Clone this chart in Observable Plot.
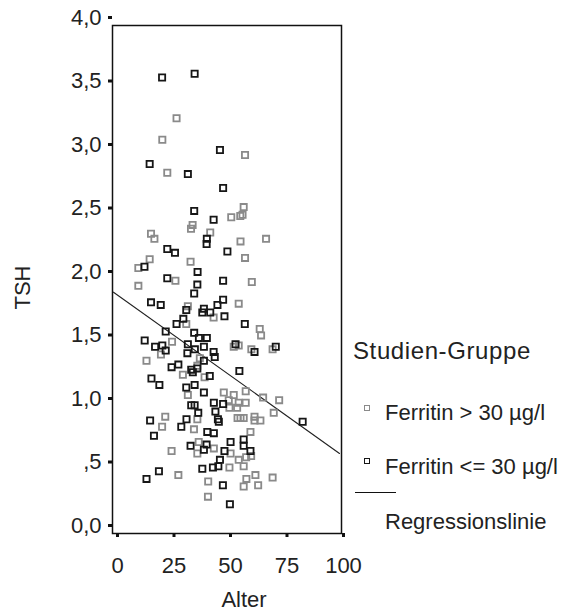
<!DOCTYPE html>
<html>
<head>
<meta charset="utf-8">
<script src="https://cdn.jsdelivr.net/npm/d3@7"></script>
<script src="https://cdn.jsdelivr.net/npm/@observablehq/plot@0.6"></script>
<style>
  body { margin: 0; background: #fff; }
  #wrap { position: relative; width: 565px; height: 614px; font-family: "Liberation Sans", Arial, sans-serif; color: #222; }
  #wrap svg { display: block; }
  .lg { position: absolute; font-size: 22px; line-height: 26px; white-space: nowrap; color: #222; }
  .sw { position: absolute; width: 4px; height: 4px; border: 1.5px solid; }
  .ln { position: absolute; height: 0; border-top: 1.5px solid #111; }
</style>
</head>
<body>
<div id="wrap"></div>
<script>
// Study groups
const groups = ["Ferritin > 30 µg/l", "Ferritin <= 30 µg/l"];

// Ferritin > 30 µg/l: age (years) and TSH
const ageHigh = [27.9,21.6,58.2,23.8,57.6,52.1,57.1,56.1,35.0,34.3,42.8,16.6,18.1,56.2,67.5,58.2,16.0,11.0,34.1,27.4,
  61.2,11.0,55.4,32.9,44.3,32.2,64.7,65.3,25.9,53.2,55.4,70.4,21.0,61.0,38.2,14.6,30.7,40.3,37.1,32.9,
  48.8,53.2,58.5,66.2,73.3,51.0,55.4,58.5,51.3,54.7,70.9,22.9,37.1,56.2,57.6,54.9,62.4,62.4,65.0,21.5,
  35.6,60.6,37.7,25.7,37.1,44.4,51.8,55.4,58.7,60.9,51.3,57.6,28.7,41.9,58.8,62.8,70.4,57.6,64.0,41.8];
const tshHigh = [3.27,3.10,2.98,2.84,2.57,2.49,2.51,2.50,2.43,2.40,2.37,2.36,2.32,2.30,2.32,2.17,2.16,2.09,2.14,1.99,
  1.98,1.95,1.81,1.79,1.70,1.65,1.61,1.56,1.51,1.47,1.48,1.45,1.41,1.45,1.38,1.36,1.25,1.23,1.32,1.09,
  1.11,1.09,1.12,1.07,1.05,1.05,1.03,1.03,0.99,0.99,0.95,0.92,0.90,0.91,0.91,0.91,0.92,0.89,0.89,0.84,
  0.82,0.80,0.72,0.65,0.63,0.67,0.63,0.58,0.60,0.61,0.52,0.53,0.46,0.41,0.43,0.46,0.44,0.37,0.38,0.29];

// Ferritin <= 30 µg/l: age (years) and TSH
const ageLow = [21.5,35.9,47.1,16.0,32.9,48.5,35.7,44.3,41.3,41.2,23.8,27.2,50.4,13.7,37.2,23.8,48.5,37.1,35.7,16.6,
  20.9,48.5,46.0,32.2,40.0,39.3,42.8,49.1,30.9,27.9,58.1,23.1,35.7,37.8,41.3,13.8,32.9,54.0,71.8,18.4,
  21.6,23.1,32.7,36.0,40.0,62.4,44.3,44.8,40.0,25.7,28.7,34.4,37.1,55.7,35.1,42.6,16.8,20.3,32.2,35.9,
  40.0,44.4,48.5,34.4,35.9,45.1,37.5,16.2,32.3,46.2,46.6,83.7,30.0,41.5,44.4,17.9,34.1,41.2,51.8,57.6,
  57.6,40.0,49.1,60.6,47.1,46.4,44.0,39.3,20.1,14.6,48.4,51.5];
const tshLow = [3.59,3.62,3.02,2.91,2.83,2.72,2.54,2.47,2.32,2.28,2.24,2.21,2.22,2.10,2.06,2.01,1.99,1.96,1.89,1.82,
  1.80,1.84,1.80,1.76,1.77,1.74,1.74,1.71,1.69,1.65,1.65,1.59,1.58,1.54,1.54,1.52,1.49,1.49,1.47,1.47,
  1.48,1.44,1.42,1.45,1.47,1.43,1.43,1.39,1.36,1.31,1.33,1.29,1.30,1.28,1.27,1.24,1.22,1.17,1.15,1.17,
  1.11,1.03,1.02,1.01,1.01,0.96,0.95,0.89,0.90,0.90,0.88,0.88,0.84,0.80,0.79,0.77,0.69,0.70,0.72,0.74,
  0.69,0.66,0.65,0.65,0.58,0.53,0.52,0.51,0.49,0.43,0.38,0.23];

// Regression line end points (age, TSH)
const regAge = [0, 100];
const regTsh = [1.90, 0.63];

// Axis ticks
const xTicks = [0, 25, 50, 75, 100];
const yTicks = [0, 0.5, 1, 1.5, 2, 2.5, 3, 3.5, 4];

const high = ageHigh.map((a, i) => ({age: a, tsh: tshHigh[i], group: groups[0]}));
const low = ageLow.map((a, i) => ({age: a, tsh: tshLow[i], group: groups[1]}));
const reg = regAge.map((a, i) => ({age: a, tsh: regTsh[i]}));

// German decimal comma; the leading zero is dropped for ,5
const fmtY = d => d === 0.5 ? ",5" : d.toFixed(1).replace(".", ",");

const chart = Plot.plot({
  width: 565,
  height: 614,
  marginLeft: 112,
  marginRight: 224,
  marginTop: 25,
  marginBottom: 81,
  insetLeft: 1,
  insetRight: 2,
  x: {domain: [0, 100]},
  y: {domain: [0, 4]},
  style: {fontFamily: "'Liberation Sans', Arial, sans-serif", fontSize: "22px", color: "#222", background: "white"},
  marks: [
    Plot.frame({stroke: "#111", strokeWidth: 1.5}),
    Plot.axisY(yTicks, {tickSize: 4, strokeWidth: 3, stroke: "#111", tickPadding: 7, tickFormat: fmtY, fontSize: 22, dy: -8, label: null}),
    Plot.axisX(xTicks, {tickSize: 4, strokeWidth: 3, stroke: "#111", tickPadding: 20, fontSize: 22, dx: 4, label: null}),
    Plot.text(["TSH"], {text: d => d, frameAnchor: "left", rotate: -90, dx: -90, dy: 30, fontSize: 22, fill: "#222"}),
    Plot.text(["Alter"], {text: d => d, frameAnchor: "bottom", dy: 73, dx: 17, fontSize: 22, fill: "#222"}),
    Plot.line(reg, {x: "age", y: "tsh", stroke: "#222", strokeWidth: 1.1}),
    Plot.dot(high, {x: "age", y: "tsh", symbol: "square", r: 3.5, stroke: "#8a8a8a", strokeWidth: 1.8, fill: "none"}),
    Plot.dot(low, {x: "age", y: "tsh", symbol: "square", r: 3.5, stroke: "#161616", strokeWidth: 1.8, fill: "none"})
  ]
});

const wrap = document.getElementById("wrap");
wrap.appendChild(chart);

// Legend to the right of the plot
const esc = s => s.replace(/</g, "&lt;").replace(/>/g, "&gt;");
const legendHtml = `
  <div class="lg" style="left:353px;top:338px;font-size:24px;letter-spacing:0.6px">Studien-Gruppe</div>
  <div class="sw" style="left:364px;top:405px;border-color:#8a8a8a"></div>
  <div class="lg" style="left:385px;top:400px">${esc(groups[0])}</div>
  <div class="sw" style="left:364px;top:458px;border-color:#161616"></div>
  <div class="lg" style="left:385px;top:454px">${esc(groups[1])}</div>
  <div class="ln" style="left:355px;top:492px;width:41px"></div>
  <div class="lg" style="left:385px;top:509px">Regressionslinie</div>
`;
wrap.insertAdjacentHTML("beforeend", legendHtml);
</script>
</body>
</html>
